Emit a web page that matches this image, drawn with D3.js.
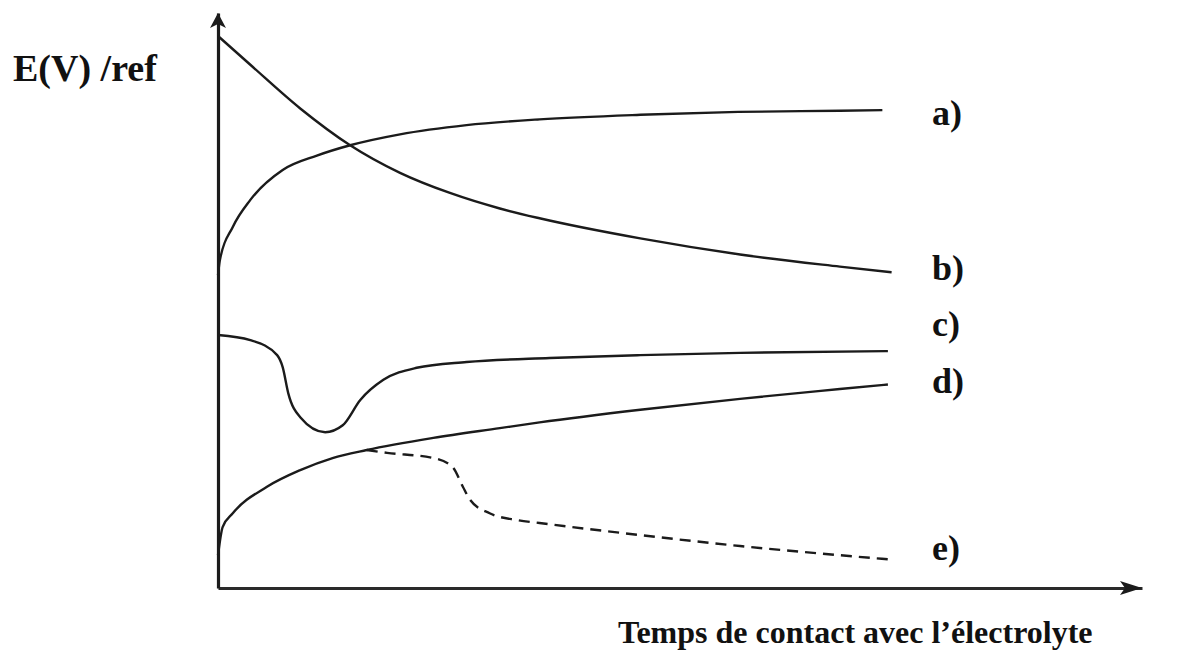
<!DOCTYPE html>
<html>
<head>
<meta charset="utf-8">
<script src="https://cdn.jsdelivr.net/npm/d3@7/dist/d3.min.js"></script>
<style>
  html, body { margin: 0; padding: 0; background: #fff; }
  svg { display: block; }
  .lbl { font-family: "Liberation Serif", "Times New Roman", serif; font-weight: bold; fill: #111; }
</style>
</head>
<body>
<svg id="chart" width="1199" height="651"></svg>
<script>
// Open-circuit potential vs. contact time with the electrolyte (schematic curves a–e)
// Time in arbitrary units (0–100 along the axis), potential in arbitrary units (0–100).

const timeA = [0, 0.2, 1.6, 3.5, 7.0, 10.7, 14.3, 19.7, 26.9, 34.8, 45.7, 56.3, 67.3, 71.9];
const potA  = [54.4, 57.0, 62.8, 67.5, 72.7, 75.2, 77.0, 78.9, 80.5, 81.5, 82.3, 82.8, 83.0, 83.1];

const timeB = [0, 3.5, 8.9, 14.3, 19.7, 25.1, 30.5, 34.8, 45.7, 56.5, 67.3, 72.9];
const potB  = [96.0, 91.0, 83.4, 77.0, 72.2, 68.7, 66.0, 64.3, 60.8, 58.0, 55.9, 54.9];

const timeC = [0, 3.5, 6.4, 7.0, 7.6, 8.9, 11.6, 13.5, 15.4, 17.9, 21.5, 26.9, 35.9, 45.7, 56.5, 72.5];
const potC  = [44.0, 43.1, 40.5, 38.4, 33.9, 29.7, 27.1, 28.3, 32.7, 36.2, 38.3, 39.3, 40.0, 40.5, 40.9, 41.2];

const timeD = [0, 0.5, 1.6, 5.3, 8.9, 12.4, 16.1, 23.3, 30.5, 34.8, 45.7, 56.5, 67.3, 72.5];
const potD  = [5.7, 10.6, 13.0, 17.6, 20.5, 22.6, 24.0, 26.1, 27.8, 28.8, 31.0, 32.9, 34.6, 35.4];

const timeE = [16.1, 18.3, 23.3, 25.4, 26.5, 27.3, 29.4, 32.4, 34.8, 45.7, 56.5, 67.3, 72.5];
const potE  = [24.0, 23.5, 22.6, 21.0, 17.6, 15.3, 13.0, 11.8, 11.3, 9.2, 7.3, 5.7, 5.0];

const curveNames = ["a)", "b)", "c)", "d)", "e)"];
const labelPot   = [80.6, 53.6, 43.8, 33.9, 4.9];

const yAxisTitle = "E(V) /ref";
const xAxisTitle = "Temps de contact avec l\u2019\u00e9lectrolyte";

const svg = d3.select("#chart");

const x = d3.scaleLinear().domain([0, 100]).range([218, 1142]);
const y = d3.scaleLinear().domain([0, 100]).range([588, 13]);

const ink = "#1b1b1b";

// axes: bare lines, no ticks, with arrowheads at the far ends
const gx = svg.append("g")
  .attr("transform", `translate(0,${y(0)})`)
  .call(d3.axisBottom(x).tickValues([]).tickSizeOuter(0));
gx.select(".domain").attr("stroke", "#2a2a2a").attr("stroke-width", 3);

const gy = svg.append("g")
  .attr("transform", `translate(${x(0)},0)`)
  .call(d3.axisLeft(y).tickValues([]).tickSizeOuter(0));
gy.select(".domain").attr("stroke", ink).attr("stroke-width", 3.2);

// arrowheads
const xt = x(100), yt = y(0);
svg.append("path")
  .attr("d", `M${xt},${yt} L${xt - 22},${yt - 7} L${xt - 17},${yt} L${xt - 22},${yt + 7} Z`)
  .attr("fill", ink);
const ytx = x(0), yty = y(100);
svg.append("path")
  .attr("d", `M${ytx},${yty} L${ytx - 8},${yty + 15} L${ytx},${yty + 11} L${ytx + 8},${yty + 15} Z`)
  .attr("fill", ink);

// curves
const line = d3.line()
  .x(d => x(d[0]))
  .y(d => y(d[1]))
  .curve(d3.curveMonotoneX);

const series = [
  { t: timeA, v: potA, dash: null },
  { t: timeB, v: potB, dash: null },
  { t: timeC, v: potC, dash: null },
  { t: timeD, v: potD, dash: null },
  { t: timeE, v: potE, dash: "11,7" }
];

svg.append("g").selectAll("path")
  .data(series)
  .join("path")
  .attr("d", s => line(d3.zip(s.t, s.v)))
  .attr("fill", "none")
  .attr("stroke", ink)
  .attr("stroke-width", 2.4)
  .attr("stroke-linecap", "butt")
  .attr("stroke-dasharray", s => s.dash);

// curve labels
svg.append("g").selectAll("text")
  .data(curveNames)
  .join("text")
  .attr("class", "lbl")
  .attr("x", 932)
  .attr("y", (d, i) => y(labelPot[i]))
  .attr("font-size", 36)
  .text(d => d);

// axis titles
svg.append("text")
  .attr("class", "lbl")
  .attr("x", 13)
  .attr("y", 81)
  .attr("font-size", 38)
  .text(yAxisTitle);

svg.append("text")
  .attr("class", "lbl")
  .attr("x", 618)
  .attr("y", 643)
  .attr("font-size", 32)
  .text(xAxisTitle);
</script>
</body>
</html>
